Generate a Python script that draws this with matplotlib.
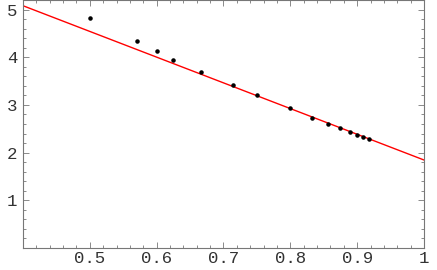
import matplotlib
matplotlib.use("Agg")
import matplotlib.pyplot as plt
from matplotlib.ticker import MultipleLocator

# data points
x_pts = [0.5, 0.571, 0.6, 0.625, 0.667, 0.714, 0.75, 0.8, 0.833, 0.857,
         0.875, 0.889, 0.9, 0.909, 0.917]
y_pts = [4.83, 4.35, 4.14, 3.95, 3.70, 3.41, 3.20, 2.93, 2.73, 2.61,
         2.51, 2.43, 2.37, 2.32, 2.28]

# fitted line (endpoints)
x_fit = [0.4, 1.0]
y_fit = [5.08, 1.845]

x_ticks = [0.5, 0.6, 0.7, 0.8, 0.9, 1.0]
x_labels = ["0.5", "0.6", "0.7", "0.8", "0.9", "1"]
y_ticks = [1, 2, 3, 4, 5]
y_labels = ["1", "2", "3", "4", "5"]

fig = plt.figure(figsize=(4.37, 2.70), dpi=100)
ax = fig.add_axes([23 / 437, 1 - 248 / 270, (424 - 23) / 437, 248 / 270])

ax.plot(x_fit, y_fit, color="red", lw=1.0, zorder=2)
ax.scatter(x_pts, y_pts, s=5, color="black", zorder=3)

ax.set_xlim(0.4, 1.0)
ax.set_ylim(0, 5.2)

ax.set_xticks(x_ticks)
ax.set_xticklabels(x_labels)
ax.set_yticks(y_ticks)
ax.set_yticklabels(y_labels)
ax.xaxis.set_minor_locator(MultipleLocator(0.02))
ax.yaxis.set_minor_locator(MultipleLocator(0.2))

for s in ax.spines.values():
    s.set_color("#777777")
    s.set_linewidth(0.8)

ax.tick_params(which="both", direction="in", top=True, right=True,
               color="#777777", width=0.6)
ax.tick_params(which="major", length=4)
ax.tick_params(which="minor", length=2)
ax.tick_params(axis="x", pad=2)
ax.tick_params(axis="y", pad=4)

for lab in ax.get_xticklabels() + ax.get_yticklabels():
    lab.set_fontfamily("Liberation Mono")
    lab.set_fontsize(12.5)
    lab.set_color("#333333")

fig.savefig("out.png", dpi=100)
